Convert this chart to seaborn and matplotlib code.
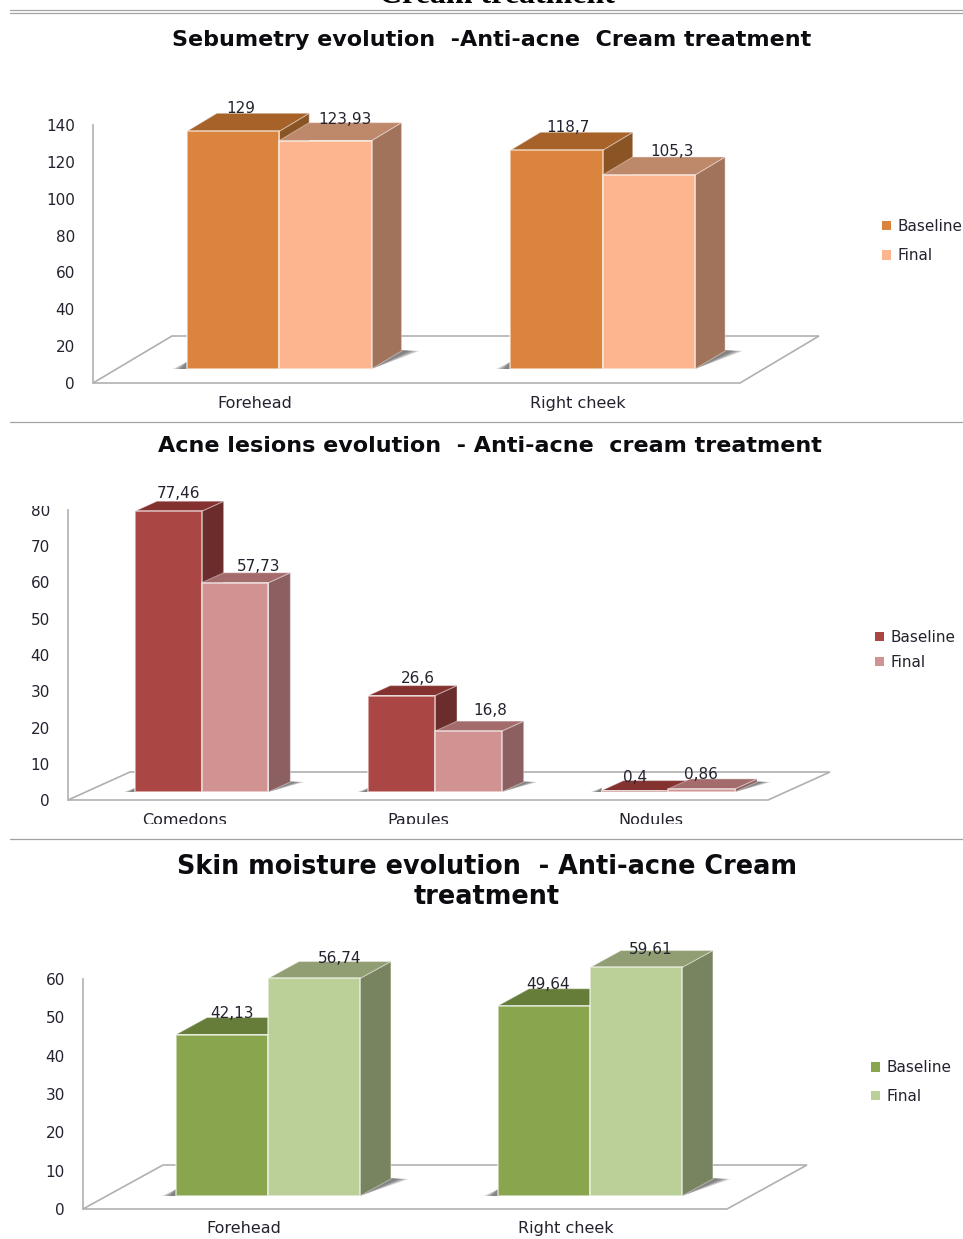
import matplotlib
matplotlib.use("Agg")
import matplotlib.pyplot as plt
import pandas as pd
import seaborn as sns
from matplotlib.lines import Line2D
from matplotlib.patches import Patch, Polygon, Rectangle

# Measured values per panel
sebum_regions = ["Forehead", "Right cheek"]
sebum_baseline = [129, 118.7]
sebum_final = [123.93, 105.3]

lesion_types = ["Comedons", "Papules", "Nodules"]
lesion_baseline = [77.46, 26.6, 0.4]
lesion_final = [57.73, 16.8, 0.86]

moisture_regions = ["Forehead", "Right cheek"]
moisture_baseline = [42.13, 49.64]
moisture_final = [56.74, 59.61]

sebum_title = "Sebumetry evolution  -Anti-acne  Cream treatment"
lesion_title = "Acne lesions evolution  - Anti-acne  cream treatment"
moisture_title = "Skin moisture evolution  - Anti-acne Cream\ntreatment"
visits = ["Baseline", "Final"]

W, H = 963, 1239
sns.set_theme(style="white")
plt.rcParams["font.family"] = ["DejaVu Sans"]
fig = plt.figure(figsize=(W / 100, H / 100), dpi=100, facecolor="white")

GREY = "#B0B0B0"
INK = "#23232f"
SHADOW_STEPS = [1.0, 0.9, 0.8, 0.7, 0.6, 0.5, 0.4]


def fx(px):
    return px / W


def fy(py):
    return 1 - py / H


def panel(categories, baseline, final, cfg):
    df = pd.DataFrame({
        "category": list(categories) * 2,
        "visit": [visits[0]] * len(categories) + [visits[1]] * len(categories),
        "value": list(baseline) + list(final),
    })
    n = len(categories)
    ymax = cfg["ymax"]
    span = cfg["zero"] - cfg["top"]

    # Rear axes: value axis, category labels and the floor outline
    back = fig.add_axes([fx(cfg["left"]), fy(cfg["zero"]), fx(cfg["front"]), span / H])
    back.set_xlim(-0.5, n - 0.5)
    back.set_ylim(0, ymax)
    back.set_yticks(range(0, ymax + 1, cfg["step"]))
    back.set_xticks(range(n), categories)
    back.tick_params(axis="y", length=0, pad=13, labelsize=11, labelcolor=INK)
    back.tick_params(axis="x", length=0, pad=cfg["xpad"], labelsize=11.5, labelcolor=INK)
    back.patch.set_alpha(0)
    sns.despine(ax=back, bottom=True, right=True, top=True)
    back.spines["left"].set_color(GREY)
    back.spines["left"].set_linewidth(1.2)
    fdx, fdy = cfg["floor"]
    fw, fh = fdx / cfg["front"], fdy / span
    back.add_patch(Polygon([(0, 0), (fw, fh), (1 + fw, fh), (1, 0)], closed=True, fill=False,
                           edgecolor=GREY, linewidth=1.2, transform=back.transAxes, clip_on=False))

    # Front axes: the bars stand on a plane shifted into the floor
    ax = fig.add_axes([fx(cfg["left"] + cfg["shift"]), fy(cfg["base"]), fx(cfg["front"]), span / H])
    sns.barplot(data=df, x="category", y="value", hue="visit", hue_order=visits,
                palette=cfg["face"], width=cfg["width"], gap=0, saturation=1,
                edgecolor=(1, 1, 1, 0.6), linewidth=1.2, legend=False, ax=ax)
    ax.set_xlim(-0.5, n - 0.5)
    ax.set_ylim(0, ymax)
    ax.axis("off")

    ppx = cfg["front"] / n
    ppy = span / ymax
    ddx, ddy = cfg["depth"][0] / ppx, cfg["depth"][1] / ppy

    z = 2.0
    idx = 0
    for h, container in enumerate(ax.containers):
        for bar in container:
            x0, x1 = bar.get_x(), bar.get_x() + bar.get_width()
            top = bar.get_height()
            # Soft contact shadow on the floor, wedges left and right of the foot
            for grow in SHADOW_STEPS:
                gx = grow * cfg["shadow"] / ppx
                ax.add_patch(Polygon([(x1, 0), (x1 + ddx + gx, ddy),
                                      (x1 + ddx, ddy * 1.05)], closed=True,
                                     facecolor="#3c3c3c", edgecolor="none", alpha=0.13,
                                     clip_on=False, zorder=1))
                ax.add_patch(Polygon([(x0, 0), (x0 - gx * 0.8, 0), (x0, ddy * 0.4)],
                                     closed=True, facecolor="#3c3c3c", edgecolor="none",
                                     alpha=0.13, clip_on=False, zorder=1))
            ax.add_patch(Polygon([(x1, 0), (x1 + ddx, ddy), (x1 + ddx, top + ddy), (x1, top)],
                                 closed=True, facecolor=cfg["side"][h], edgecolor=(1, 1, 1, 0.35),
                                 linewidth=0.8, clip_on=False, zorder=z))
            ax.add_patch(Polygon([(x0, top), (x0 + ddx, top + ddy), (x1 + ddx, top + ddy), (x1, top)],
                                 closed=True, facecolor=cfg["cap"][h], edgecolor=(1, 1, 1, 0.35),
                                 linewidth=0.8, clip_on=False, zorder=z + 0.1))
            bar.set_zorder(5)
            z += 0.2
            label = f"{top:g}".replace(".", ",")
            ax.annotate(label, ((x0 + x1) / 2, top), xytext=cfg["nudge"][idx],
                        textcoords="offset pixels", ha="center", va="center",
                        fontsize=11, color=INK, zorder=8, annotation_clip=False)
            idx += 1

    # Legend, built from the two face colours
    handles = [Patch(facecolor=c, edgecolor="none") for c in cfg["face"]]
    fig.legend(handles, visits, loc="center left", frameon=False, fontsize=11, labelcolor=INK,
               bbox_to_anchor=(fx(cfg["legend"][0]), fy(cfg["legend"][1])),
               handlelength=0.6, handleheight=0.55, handletextpad=0.4,
               labelspacing=cfg["legend"][2], borderpad=0, borderaxespad=0)

    fig.text(fx(cfg["title"][0]), fy(cfg["title"][1]), cfg["title"][2], ha="center", va="center",
             fontsize=cfg["title"][3], fontweight="bold", color="#0b0b10", linespacing=1.2)


panel(sebum_regions, sebum_baseline, sebum_final, dict(
    left=93, front=647, zero=383, top=125, base=369, shift=24.5, ymax=140, step=20,
    width=0.571, depth=(30, 18), floor=(79, 47), xpad=9.5, shadow=18,
    face=["#DB843D", "#FCB58F"], side=["#8A5424", "#A0735A"], cap=["#A66229", "#BE886B"],
    nudge=[(8, 23), (11, 23), (20, 21), (23, 23)],
    legend=(882, 241, 0.98), title=(492, 40, sebum_title, 16)))

panel(lesion_types, lesion_baseline, lesion_final, dict(
    left=68, front=700, zero=800, top=510, base=792, shift=17, ymax=80, step=10,
    width=0.572, depth=(22, 10), floor=(62, 28), xpad=9.5, shadow=14,
    face=["#AA4643", "#D09392"], side=["#6B2D2B", "#8C5F60"], cap=["#843230", "#A36B6B"],
    nudge=[(10, 18), (16, 17), (0, 13), (24, 16), (22, 21), (-1, 14)],
    legend=(875, 650, 0.68), title=(490, 446, lesion_title, 16)))

panel(moisture_regions, moisture_baseline, moisture_final, dict(
    left=83, front=644, zero=1209, top=979, base=1196, shift=24, ymax=60, step=10,
    width=0.571, depth=(31, 17), floor=(80, 44), xpad=8.5, shadow=18,
    face=["#89A54E", "#BBCF98"], side=["#5F7535", "#78835F"], cap=["#667D3A", "#919E74"],
    nudge=[(10, 21), (4, 21), (26, 20), (15, 18)],
    legend=(871, 1082, 0.87), title=(487, 882, moisture_title, 18.4)))

# Tail of the preceding caption, running off the page edge
fig.text(fx(497), fy(3), "Cream treatment", ha="center", va="baseline", fontsize=23,
         fontweight="bold", family="Liberation Serif", color="black")

# Rules between the panels
for py in (9.7, 12.5, 422, 839):
    fig.add_artist(Line2D([fx(10), fx(963)], [fy(py), fy(py)], color="#A3A3A3", linewidth=0.9))

# The top tick of the middle panel and its category labels are cropped
for x, y, w, h in ((20, 496, 45, 10.5), (100, 824, 700, 12)):
    fig.add_artist(Rectangle((fx(x), fy(y + h)), w / W, h / H, facecolor="white",
                             edgecolor="none", transform=fig.transFigure, zorder=20))

fig.savefig("out.png", dpi=100, facecolor="white")
